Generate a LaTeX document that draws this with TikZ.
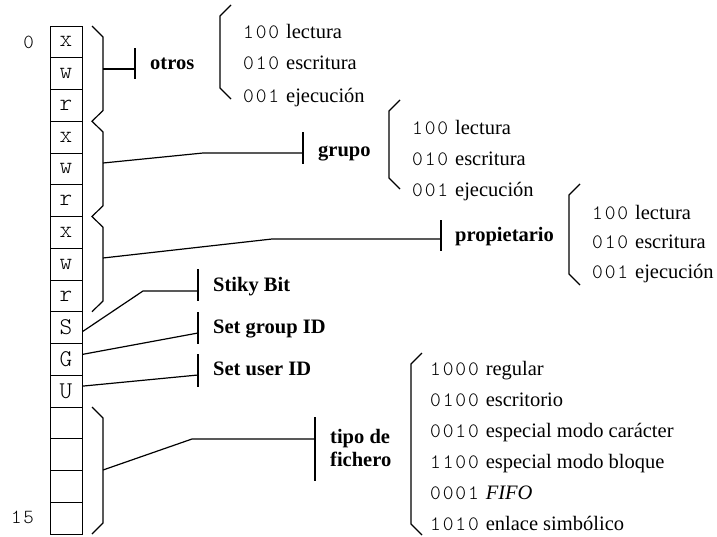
\documentclass[tikz,border=0pt]{standalone}
\usepackage{fontspec}
\setmainfont{Liberation Serif}
\setmonofont[LetterSpace=9]{Latin Modern Mono Light}
\newfontfamily\cellfont{Latin Modern Mono Light}
\tikzset{
  ln/.style={line width=1.2pt, line join=miter},
  cell/.style={draw, line width=0.9pt, minimum width=32pt, minimum height=31.75pt, inner sep=0pt, font=\fontsize{24}{26}\selectfont\cellfont},
  lbl/.style={anchor=base west, inner sep=0pt, font=\fontsize{20.5}{23}\selectfont\bfseries},
  item/.style={anchor=base west, inner sep=0pt, font=\fontsize{20.5}{24}\selectfont},
  idx/.style={anchor=east, inner sep=0pt, font=\fontsize{20}{24}\selectfont\ttfamily}
}
\begin{document}
\begin{tikzpicture}[x=1pt,y=-1pt]
\useasboundingbox (0,0) rectangle (717,536);
% register cells
\foreach \i/\t in {0/x,1/w,2/r,3/x,4/w,5/r,6/x,7/w,8/r,9/S,10/G,11/U,12/{},13/{},14/{},15/{}}
  \node[cell] (c\i) at (66,{26+31.75*(\i+0.5)}) {\t};
\node[idx] (n0) at (34,42) {0};
\node[idx] (n15) at (34,517) {15};

% braces on the bits
\draw[ln] (92,26) -- (103,37) -- (103,110.5) -- (92,121.25) -- (103,132) -- (103,205.75) -- (92,216.5) -- (103,227.25) -- (103,301) -- (92,311.75);
\draw[ln] (92,407) -- (103,418) -- (103,523) -- (92,534);

% otros
\coordinate (bo) at (103,69);
\coordinate (to) at (135,69);
\draw[ln] (bo) -- (to);
\draw[ln] (135,48) -- (135,79);
\node[lbl] (otros) at (150,69) {otros};

% grupo
\coordinate (bg) at (103,163);
\coordinate (kg) at (203,153);
\coordinate (tg) at (303,153);
\draw[ln] (bg) -- (kg) -- (tg);
\draw[ln] (303,132) -- (303,164);
\node[lbl] (grupo) at (318,156) {grupo};

% propietario
\coordinate (bp) at (103,258);
\coordinate (kp) at (272,239);
\coordinate (tp) at (441,239);
\draw[ln] (bp) -- (kp) -- (tp);
\draw[ln] (441,220) -- (441,251);
\node[lbl] (prop) at (455,241) {propietario};

% special bits
\coordinate (ks) at (143,291);
\coordinate (ts) at (198,291);
\draw[ln] (c9.east) ++(0,4) -- (ks) -- (ts);
\draw[ln] (198,269) -- (198,301);
\node[lbl] (stiky) at (213,291) {Stiky Bit};

\coordinate (tgid) at (198,333);
\draw[ln] (c10.east) ++(0,-5) -- (tgid);
\draw[ln] (198,312) -- (198,344);
\node[lbl] (sgid) at (213,333) {Set group ID};

\coordinate (tuid) at (198,375);
\draw[ln] (c11.east) ++(0,-5) -- (tuid);
\draw[ln] (198,354) -- (198,387);
\node[lbl] (suid) at (213,375) {Set user ID};

% tipo de fichero
\coordinate (bt) at (103,470);
\coordinate (kt) at (192,439);
\coordinate (tt) at (315,439);
\draw[ln] (bt) -- (kt) -- (tt);
\draw[ln] (315,417) -- (315,481);
\node[lbl] (tipo1) at (330,443) {tipo de};
\node[lbl] (tipo2) at (330,466) {fichero};

% list: otros
\draw[ln] (231,5) -- (220,16) -- (220,88) -- (231,99);
\node[item] (o1) at (243,38) {\texttt{100} lectura};
\node[item] (o2) at (243,69) {\texttt{010} escritura};
\node[item] (o3) at (243,102) {\texttt{001} ejecución};

% list: grupo
\draw[ln] (400,100) -- (389,111) -- (389,178) -- (400,189);
\node[item] (g1) at (412,134) {\texttt{100} lectura};
\node[item] (g2) at (412,165) {\texttt{010} escritura};
\node[item] (g3) at (412,196) {\texttt{001} ejecución};

% list: propietario
\draw[ln] (580,184) -- (569,195) -- (569,274) -- (580,285);
\node[item] (p1) at (592,219) {\texttt{100} lectura};
\node[item] (p2) at (592,248) {\texttt{010} escritura};
\node[item] (p3) at (592,278) {\texttt{001} ejecución};

% list: tipo
\draw[ln] (422,353) -- (411,364) -- (411,524) -- (422,535);
\node[item] (t1) at (430,375) {\texttt{1000} regular};
\node[item] (t2) at (430,406) {\texttt{0100} escritorio};
\node[item] (t3) at (430,437) {\texttt{0010} especial modo carácter};
\node[item] (t4) at (430,468) {\texttt{1100} especial modo bloque};
\node[item] (t5) at (430,499) {\texttt{0001} \textit{FIFO}};
\node[item] (t6) at (430,530) {\texttt{1010} enlace simbólico};
\end{tikzpicture}
\end{document}
